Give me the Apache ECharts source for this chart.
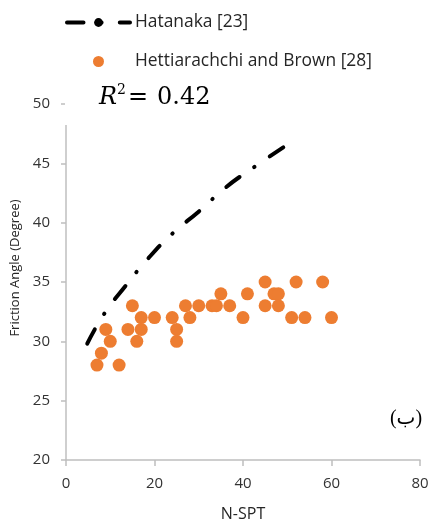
<!DOCTYPE html>
<html>
<head>
<meta charset="utf-8">
<script src="https://cdn.jsdelivr.net/npm/echarts@6/dist/echarts.min.js"></script>
<style>
  html, body { margin: 0; padding: 0; background: #fff; }
  #chart { width: 430px; height: 521px; }
</style>
</head>
<body>
<div id="chart"></div>
<script>
// Measured friction angle against SPT blow count
const sptN = [7, 12, 8, 10, 9, 15, 14, 16, 17, 17, 20, 24, 25, 25, 27, 28, 30, 33, 34, 35, 37, 40, 41, 45, 52, 58, 47, 48, 45, 48, 51, 54, 60];
const frictionAngle = [28, 28, 29, 30, 31, 33, 31, 30, 31, 32, 32, 32, 31, 30, 33, 32, 33, 33, 33, 34, 33, 32, 34, 35, 35, 35, 34, 34, 33, 33, 32, 32, 32];

// Hatanaka correlation curve
const hatanakaN = [4.8, 8.6, 13.3, 18.6, 24.1, 30.2, 36.2, 42.6, 49.3];
const hatanakaPhi = [29.8, 32.3, 34.6, 37.0, 39.1, 41.0, 43.0, 44.7, 46.4];

// Axis ticks
const xTicks = [0, 20, 40, 60, 80];
const yTicks = [20, 25, 30, 35, 40, 45, 50];

const seriesNames = ['Hatanaka [23]', 'Hettiarachchi and Brown [28]'];

const dashDot = [16.5, 17.7, 0.4, 18.2];
const axisGray = '#bfbfbf';
const labelFont = '"Open Sans", "Noto Sans", sans-serif';
const mathFont = '"DejaVu Serif", "Liberation Serif", serif';

const chart = echarts.init(document.getElementById('chart'), null, { renderer: 'canvas' });

chart.setOption({
  backgroundColor: '#ffffff',
  animation: false,
  grid: { left: 66, right: 10, top: 104, bottom: 61, containLabel: false, outerBoundsMode: 'none' },
  legend: {
    orient: 'vertical',
    left: 65,
    top: 14,
    padding: 0,
    itemGap: 22,
    itemWidth: 63,
    itemHeight: 11,
    data: seriesNames,
    textStyle: { fontFamily: labelFont, fontSize: 17.4, color: '#262626' },
    lineStyle: { color: '#000', width: 4, type: dashDot, cap: 'round' }
  },
  xAxis: {
    type: 'value',
    min: xTicks[0],
    max: xTicks[xTicks.length - 1],
    interval: xTicks[1] - xTicks[0],
    name: 'N-SPT',
    nameLocation: 'middle',
    nameGap: 46,
    nameTextStyle: { fontFamily: labelFont, fontSize: 16, color: '#262626' },
    axisLine: { lineStyle: { color: axisGray, width: 1.5 } },
    axisTick: { show: true, length: 6, lineStyle: { color: axisGray, width: 1.5 } },
    axisLabel: { margin: 16, fontFamily: labelFont, fontSize: 15, color: '#333' },
    splitLine: { show: false }
  },
  yAxis: {
    type: 'value',
    min: yTicks[0],
    max: yTicks[yTicks.length - 1],
    interval: yTicks[1] - yTicks[0],
    name: 'Friction Angle (Degree)',
    nameLocation: 'middle',
    nameGap: 38,
    nameTextStyle: { fontFamily: labelFont, fontSize: 13, color: '#262626', padding: [0, 0, 0, 28] },
    axisLine: { lineStyle: { color: axisGray, width: 1.5 } },
    axisTick: { show: true, length: 5, lineStyle: { color: axisGray, width: 1.5 } },
    axisLabel: { margin: 16, fontFamily: labelFont, fontSize: 15, color: '#333' },
    splitLine: { show: false }
  },
  series: [
    {
      name: seriesNames[0],
      type: 'line',
      data: hatanakaN.map((n, i) => [n, hatanakaPhi[i]]),
      smooth: true,
      showSymbol: false,
      symbol: 'none',
      lineStyle: { color: '#000', width: 4, type: dashDot, cap: 'round' },
      itemStyle: { color: '#000' },
      z: 3
    },
    {
      name: seriesNames[1],
      type: 'scatter',
      data: sptN.map((n, i) => [n, frictionAngle[i]]),
      symbol: 'circle',
      symbolSize: 13,
      itemStyle: { color: '#ED7D31', opacity: 1 },
      z: 2
    }
  ],
  graphic: [
    {
      type: 'rect',
      z: 100,
      shape: { x: 65, y: 84, width: 152, height: 41 },
      style: { fill: '#ffffff' }
    },
    {
      type: 'text',
      z: 101,
      x: 99, y: 110,
      style: { text: 'R', font: 'italic 24px ' + mathFont, fill: '#000', verticalAlign: 'bottom' }
    },
    {
      type: 'text',
      z: 101,
      x: 117, y: 97,
      style: { text: '2', font: '14px ' + mathFont, fill: '#000', verticalAlign: 'bottom' }
    },
    {
      type: 'text',
      z: 101,
      x: 128, y: 110,
      style: { text: '=', font: '24px ' + mathFont, fill: '#000', verticalAlign: 'bottom' }
    },
    {
      type: 'text',
      z: 101,
      x: 157, y: 110,
      style: { text: '0.42', font: '24px ' + mathFont, fill: '#000', verticalAlign: 'bottom' }
    },
    {
      type: 'text',
      z: 101,
      x: 406, y: 419,
      style: { text: '(ب)', font: '20px "Liberation Serif", "DejaVu Sans", serif', fill: '#000', align: 'center', verticalAlign: 'middle' }
    }
  ]
});
</script>
</body>
</html>
